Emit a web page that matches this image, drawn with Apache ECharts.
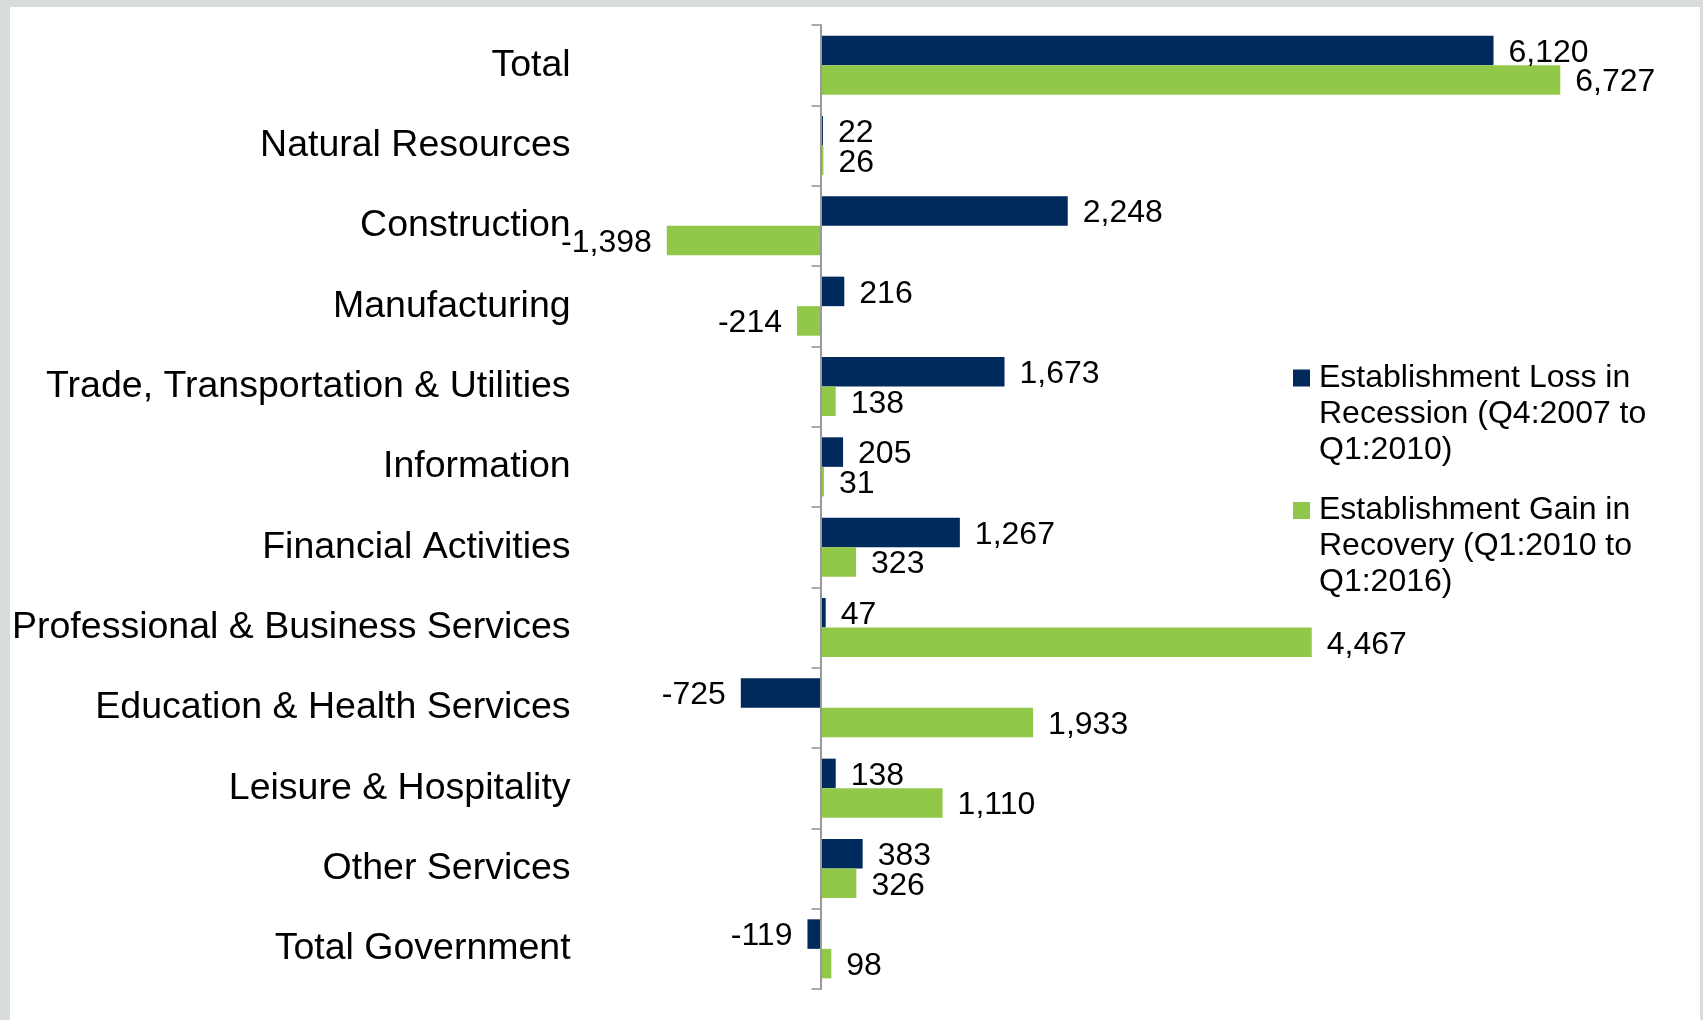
<!DOCTYPE html>
<html>
<head>
<meta charset="utf-8">
<script src="https://cdn.jsdelivr.net/npm/echarts@6/dist/echarts.min.js"></script>
<style>
  html, body { margin: 0; padding: 0; background: #d8dddc; }
  #frame { position: absolute; left: 10px; top: 7px; right: 3px; bottom: 0; background: #fff; }
  #chart { position: absolute; left: 0; top: 0; width: 1703px; height: 1020px; }
</style>
</head>
<body>
<div id="frame"></div>
<div id="chart"></div>
<script>
const categories = [
  'Total',
  'Natural Resources',
  'Construction',
  'Manufacturing',
  'Trade, Transportation & Utilities',
  'Information',
  'Financial Activities',
  'Professional & Business Services',
  'Education & Health Services',
  'Leisure & Hospitality',
  'Other Services',
  'Total Government'
];
const lossName = 'Establishment Loss in\nRecession (Q4:2007 to\nQ1:2010)';
const gainName = 'Establishment Gain in\nRecovery (Q1:2010 to\nQ1:2016)';
const lossValues = [6120, 22, 2248, 216, 1673, 205, 1267, 47, -725, 138, 383, -119];
const gainValues = [6727, 26, -1398, -214, 138, 31, 323, 4467, 1933, 1110, 326, 98];

const NAVY = '#002a5b';
const GREEN = '#92c84a';
const FONT = '"Liberation Sans", Arial, sans-serif';

// negative bars get their label on the left
const toItems = vals => vals.map(v => ({
  value: v,
  label: { position: v < 0 ? 'left' : 'right' }
}));

// legend square sits on the first line of the 3-line name
const legendIcon = 'path://M0,0h0 M0,9.5h17v17h-17z M21,108h0';

const chart = echarts.init(document.getElementById('chart'), null, { renderer: 'canvas' });

const barLabel = {
  show: true,
  distance: 15,
  offset: [0, 2.5],
  color: '#000',
  fontSize: 32,
  fontFamily: FONT,
  formatter: p => p.value.toLocaleString('en-US')
};

chart.setOption({
  animation: false,
  backgroundColor: 'transparent',
  textStyle: { fontFamily: FONT },
  grid: {
    left: 600.6, top: 25, width: 989.7, height: 964,
    containLabel: false,
    outerBoundsMode: 'none'
  },
  legend: {
    orient: 'vertical',
    left: 1293,
    top: 360,
    padding: 0,
    itemGap: 24.5,
    itemWidth: 21,
    itemHeight: 108,
    icon: legendIcon,
    selectedMode: false,
    textStyle: { fontSize: 32, lineHeight: 36, color: '#000', fontFamily: FONT },
    data: [lossName, gainName]
  },
  xAxis: {
    type: 'value',
    min: -2000,
    max: 7000,
    show: false,
    splitLine: { show: false }
  },
  yAxis: {
    type: 'category',
    inverse: true,
    data: categories,
    z: 3,
    axisLine: { lineStyle: { color: '#999', width: 2 } },
    axisTick: { show: true, alignWithLabel: false, length: 9, lineStyle: { color: '#aaa', width: 2 } },
    axisLabel: {
      margin: 30,
      padding: [9, 0, 0, 0],
      fontSize: 37.5,
      color: '#000',
      fontFamily: FONT
    }
  },
  series: [
    {
      name: lossName,
      type: 'bar',
      data: toItems(lossValues),
      barGap: '0%',
      barCategoryGap: '26.5%',
      itemStyle: { color: NAVY },
      label: barLabel
    },
    {
      name: gainName,
      type: 'bar',
      data: toItems(gainValues),
      barGap: '0%',
      barCategoryGap: '26.5%',
      itemStyle: { color: GREEN },
      label: barLabel
    }
  ]
});
</script>
</body>
</html>
